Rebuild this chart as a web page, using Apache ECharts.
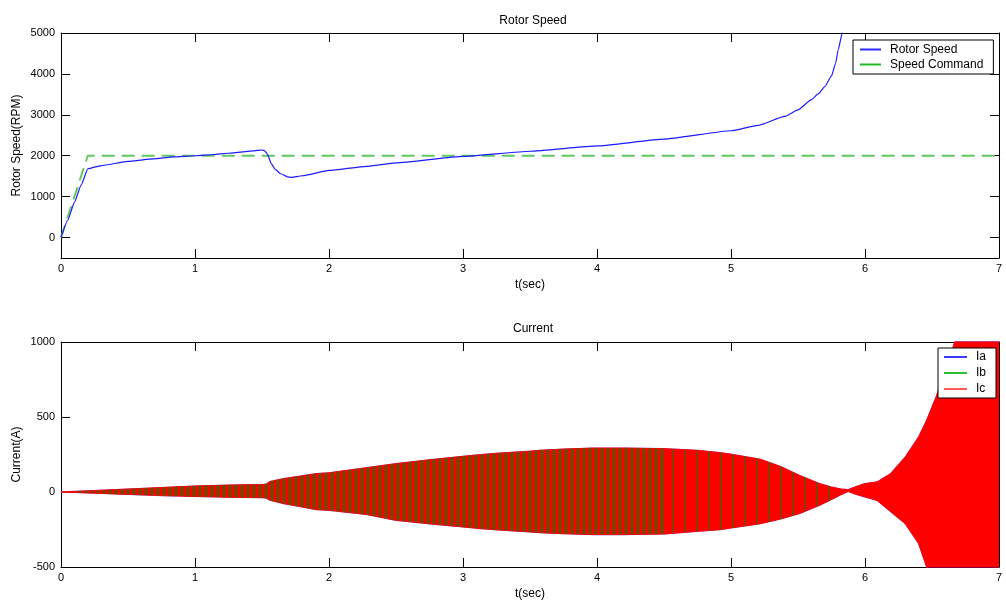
<!DOCTYPE html>
<html>
<head>
<meta charset="utf-8">
<script src="https://cdn.jsdelivr.net/npm/echarts@6/dist/echarts.min.js"></script>
<style>
html, body { margin: 0; padding: 0; background: #fff; }
#main { width: 1006px; height: 601px; }
</style>
</head>
<body>
<div id="main"></div>
<script>
// ---- Rotor speed (t in s, speed in RPM) ----
const speedTime = [0, 0.05, 0.1, 0.15, 0.2, 0.3, 0.5, 0.66, 0.84, 1.0, 1.14, 1.24, 1.44, 1.5,
  1.52, 1.54, 1.57, 1.6, 1.64, 1.69, 1.72, 1.8, 2.0, 2.28, 2.5, 3.0, 3.5, 4.0, 4.5,
  5.0, 5.2, 5.4, 5.5, 5.6, 5.65, 5.7, 5.75, 5.78, 5.8, 5.83, 5.86];
const rotorSpeed = [0, 420, 860, 1280, 1680, 1760, 1860, 1915, 1970, 2000, 2030, 2060, 2120, 2140,
  2120, 2040, 1800, 1660, 1560, 1485, 1470, 1510, 1640, 1740, 1825, 1985, 2110, 2240, 2405,
  2610, 2740, 2960, 3120, 3370, 3510, 3690, 3950, 4250, 4590, 5000, 5600];

const commandTime = [0, 0.2, 7];
const speedCommand = [0, 2000, 2000];

// ---- Phase current envelope (t in s, current in A) ----
const currentTime = [0, 0.1, 0.25, 0.5, 0.75, 1.0, 1.25, 1.5, 1.53, 1.56, 1.66, 1.8, 1.9, 2.0,
  2.28, 2.5, 2.75, 3.0, 3.13, 3.25, 3.5, 3.57, 3.75, 3.97, 4.2, 4.5, 4.75, 4.92,
  5.0, 5.22, 5.37, 5.51, 5.66, 5.75, 5.82, 5.875, 5.93, 6.0, 6.09, 6.19, 6.3,
  6.4, 6.46, 6.53, 6.61, 6.67, 6.8, 7.0];
const currentUpper = [0, 4, 10, 20, 30, 40, 46, 50, 52, 70, 89, 108, 122, 128,
  162, 189, 215, 238, 249, 258, 272, 278, 286, 293, 293, 289, 278, 262,
  252, 218, 170, 111, 56, 33, 20, 16, 35, 56, 67, 122, 233,
  367, 478, 633, 833, 1000, 1300, 1800];
const currentLower = [0, -3, -8, -16, -24, -30, -35, -38, -40, -55, -77, -100, -117, -122,
  -150, -189, -212, -233, -244, -252, -266, -271, -278, -284, -284, -280, -262, -251,
  -240, -211, -180, -144, -89, -50, -18, 4, -15, -33, -56, -130, -211,
  -344, -500, -620, -760, -860, -1100, -1500];

// ---- Tick labels ----
const timeTicks = [0, 1, 2, 3, 4, 5, 6, 7];
const speedTicks = [0, 1000, 2000, 3000, 4000, 5000];
const currentTicks = [-500, 0, 500, 1000];

const FONT = 'Liberation Sans, Arial, sans-serif';
const INK = '#000';
const plain = v => String(v);

function pairs(xs, ys) { return xs.map((x, i) => [x, ys[i]]); }
function pick(lo, hi, ys) {
  const out = [];
  currentTime.forEach((t, i) => { if (t >= lo && t <= hi) out.push([t, ys[i]]); });
  return out;
}

// vertical hatch used for the interleaved Ib trace
function hatch(period, stripe, color) {
  const c = document.createElement('canvas');
  c.width = period; c.height = 8;
  const g = c.getContext('2d');
  g.fillStyle = color;
  g.fillRect(0, 0, stripe, 8);
  return { image: c, repeat: 'repeat', scaleX: 0.5, scaleY: 0.5 };
}

function xAxisFor(grid, bottom, name) {
  return {
    type: 'value', gridIndex: grid, min: 0, max: 7, interval: 1,
    position: bottom ? 'bottom' : 'top',
    name: bottom ? name : '', nameLocation: 'middle', nameGap: 21,
    nameTextStyle: { fontFamily: FONT, fontSize: 12, color: INK },
    axisLine: { show: true, onZero: false, lineStyle: { color: INK, width: 1 } },
    axisTick: { show: true, inside: true, length: 9, lineStyle: { color: INK } },
    axisLabel: { show: bottom, fontFamily: FONT, fontSize: 11, color: INK, margin: 5,
      customValues: timeTicks, formatter: plain },
    splitLine: { show: false }
  };
}
function yAxisFor(grid, left, min, max, ticks, name, gap) {
  return {
    type: 'value', gridIndex: grid, min: min, max: max,
    position: left ? 'left' : 'right',
    name: left ? name : '', nameLocation: 'middle', nameGap: gap, nameMoveOverlap: false,
    nameTextStyle: { fontFamily: FONT, fontSize: 12, color: INK },
    axisLine: { show: true, onZero: false, lineStyle: { color: INK, width: 1 } },
    axisTick: { show: true, inside: true, length: 9, lineStyle: { color: INK }, customValues: ticks },
    axisLabel: { show: left, fontFamily: FONT, fontSize: 11, color: INK, margin: 6,
      customValues: ticks, formatter: plain },
    splitLine: { show: false }
  };
}

function band(name, xi, yi, data, fill, line, z) {
  return {
    name: name, type: 'line', xAxisIndex: xi, yAxisIndex: yi, data: data,
    showSymbol: false, symbol: 'none', z: z,
    lineStyle: line || { opacity: 0 },
    areaStyle: { color: fill, opacity: 1 },
    emphasis: { disabled: true }
  };
}

const upper = pairs(currentTime, currentUpper);
const lower = pairs(currentTime, currentLower);
const ibDense = hatch(6, 2, '#107a00');
const ibSparse = hatch(24, 2, '#107a00');

const legendBase = {
  orient: 'vertical', icon: 'rect', itemHeight: 2, itemGap: 0,
  borderColor: INK, borderWidth: 1, backgroundColor: '#fff', borderRadius: 0,
  textStyle: { fontFamily: FONT, fontSize: 12, color: INK, lineHeight: 15, padding: [0, 0, 0, 4] },
  itemStyle: { borderWidth: 0 }
};

const chart = echarts.init(document.getElementById('main'), null, { renderer: 'canvas' });
chart.setOption({
  animation: false,
  backgroundColor: '#fff',
  title: [
    { text: 'Rotor Speed', left: 528, top: 10, textAlign: 'center',
      textStyle: { fontFamily: FONT, fontSize: 12, fontWeight: 'normal', color: INK } },
    { text: 'Current', left: 528, top: 318, textAlign: 'center',
      textStyle: { fontFamily: FONT, fontSize: 12, fontWeight: 'normal', color: INK } }
  ],
  legend: [
    Object.assign({}, legendBase, {
      left: 853, top: 40, itemWidth: 21, padding: [2, 10, 2, 7],
      data: [
        { name: 'Rotor Speed', itemStyle: { color: '#2a2aff' } },
        { name: 'Speed Command', itemStyle: { color: '#22bb22' } }
      ]
    }),
    Object.assign({}, legendBase, {
      left: 938, top: 348, itemWidth: 23, padding: [1, 10, 1, 6],
      textStyle: Object.assign({}, legendBase.textStyle, { lineHeight: 16 }),
      data: [
        { name: 'Ia', itemStyle: { color: '#3a3aff' } },
        { name: 'Ib', itemStyle: { color: '#33bb33' } },
        { name: 'Ic', itemStyle: { color: '#ff5a5a' } }
      ]
    })
  ],
  grid: [
    { left: 61, top: 33, width: 938, height: 225, outerBoundsMode: 'none', containLabel: false },
    { left: 61, top: 342, width: 938, height: 225, outerBoundsMode: 'none', containLabel: false }
  ],
  xAxis: [
    xAxisFor(0, true, 't(sec)'), xAxisFor(0, false),
    xAxisFor(1, true, 't(sec)'), xAxisFor(1, false)
  ],
  yAxis: [
    yAxisFor(0, true, -500, 5000, speedTicks, 'Rotor Speed(RPM)', 38),
    yAxisFor(0, false, -500, 5000, speedTicks),
    yAxisFor(1, true, -500, 1000, currentTicks, 'Current(A)', 38),
    yAxisFor(1, false, -500, 1000, currentTicks)
  ],
  series: [
    {
      name: 'Rotor Speed', type: 'line', xAxisIndex: 0, yAxisIndex: 0,
      data: pairs(speedTime, rotorSpeed), showSymbol: false, symbol: 'none', z: 3,
      smooth: 0.15, smoothMonotone: 'x',
      lineStyle: { color: '#1a1aff', width: 1.2 }
    },
    {
      name: 'Speed Command', type: 'line', xAxisIndex: 0, yAxisIndex: 0,
      data: pairs(commandTime, speedCommand), showSymbol: false, symbol: 'none', z: 2,
      lineStyle: { color: '#62c862', width: 2, type: [13, 7] }
    },
    // phase currents, drawn as their oscillation envelopes
    band('Ia', 2, 2, upper, '#0000ff', { color: '#8a8aff', width: 1.2 }, 2),
    band('Ia', 2, 2, lower, '#0000ff', { color: '#8a8aff', width: 1.2 }, 2),
    band('Ic', 2, 2, upper, '#ff0000', { color: '#ff0000', width: 1 }, 3),
    band('Ic', 2, 2, lower, '#ff0000', { color: '#ff0000', width: 1 }, 3),
    band('Ib', 2, 2, pick(0.1, 4.5, currentUpper), ibDense, null, 4),
    band('Ib', 2, 2, pick(0.1, 4.5, currentLower), ibDense, null, 4),
    band('Ib', 2, 2, pick(4.5, 5.75, currentUpper), ibSparse, null, 4),
    band('Ib', 2, 2, pick(4.5, 5.75, currentLower), ibSparse, null, 4)
  ]
});
</script>
</body>
</html>
